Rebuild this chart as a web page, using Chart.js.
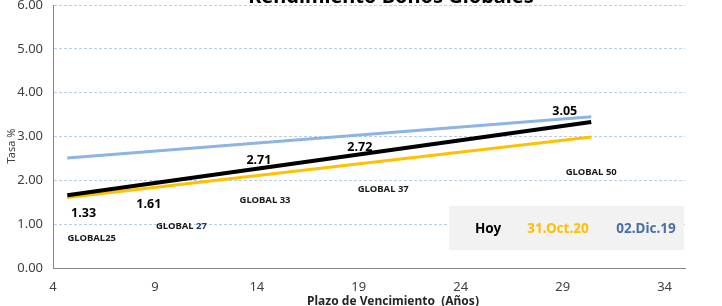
<!DOCTYPE html>
<html>
<head>
<meta charset="utf-8">
<script src="https://cdn.jsdelivr.net/npm/chart.js@4/dist/chart.umd.min.js"></script>
<style>
  html, body { margin: 0; padding: 0; background: #fff; }
  #wrap { width: 722px; height: 306px; }
</style>
</head>
<body>
<div id="wrap"><canvas id="rendimiento" width="722" height="306"></canvas></div>
<script>
// curvas (tendencia) - plazo inicial y final
const plazo = [4.7, 30.4];
const tasaHoy = [1.66, 3.33];
const tasaOct20 = [1.61, 2.99];
const tasaDic19 = [2.51, 3.45];

const xTicks = [4, 9, 14, 19, 24, 29, 34];
const yTicks = [0, 1, 2, 3, 4, 5, 6];

// etiquetas de bonos
const bonos = ["GLOBAL25", "GLOBAL 27", "GLOBAL 33", "GLOBAL 37", "GLOBAL 50"];
const bonosX = [5.9, 10.3, 14.4, 20.2, 30.4];
const bonosY = [0.68, 0.94, 1.55, 1.80, 2.19];

// tasas de hoy
const tasas = ["1.33", "1.61", "2.71", "2.72", "3.05"];
const tasasX = [5.5, 8.7, 14.1, 19.05, 29.1];
const tasasY = [1.25, 1.44, 2.46, 2.76, 3.58];

const toPoints = (ys) => plazo.map((x, i) => ({ x: x, y: ys[i] }));

const textos = {
  id: "textos",
  afterDraw(chart) {
    const ctx = chart.ctx;
    const x = chart.scales.x;
    const y = chart.scales.y;
    ctx.save();

    // titulo
    ctx.fillStyle = "#000";
    ctx.font = "bold 20px 'Noto Sans'";
    ctx.textAlign = "center";
    ctx.textBaseline = "alphabetic";
    ctx.fillText("Rendimiento Bonos Globales", 391, 3);

    // tasas
    ctx.font = "bold 12.5px 'Noto Sans'";
    ctx.textBaseline = "middle";
    tasas.forEach((t, i) => {
      ctx.fillText(t, x.getPixelForValue(tasasX[i]), y.getPixelForValue(tasasY[i]));
    });

    // bonos
    ctx.font = "bold 9.5px 'Noto Sans'";
    ctx.textAlign = "left";
    bonos.forEach((b, i) => {
      const w = ctx.measureText(b).width;
      const px = x.getPixelForValue(bonosX[i]) - w / 2;
      const py = y.getPixelForValue(bonosY[i]);
      const pre = "GLOBAL";
      const rest = b.slice(pre.length);
      ctx.fillStyle = "#1a1a1a";
      ctx.fillText(pre, px, py);
      const wp = ctx.measureText(pre).width;
      ctx.fillStyle = b === "GLOBAL 27" ? "#1F3864" : "#1a1a1a";
      ctx.fillText(rest, px + wp, py);
    });

    // leyenda
    ctx.fillStyle = "#F2F2F2";
    ctx.fillRect(449, 206, 235, 44);
    ctx.font = "bold 13.5px 'Noto Sans'";
    ctx.textAlign = "center";
    ctx.fillStyle = "#000";
    ctx.fillText("Hoy", 488, 229);
    ctx.fillStyle = "#FFC000";
    ctx.fillText("31.Oct.20", 558, 229);
    ctx.fillStyle = "#4A6FA5";
    ctx.fillText("02.Dic.19", 646, 229);

    // titulos de ejes
    ctx.fillStyle = "#262626";
    ctx.font = "bold 12px 'Noto Sans'";
    ctx.fillText("Plazo de Vencimiento  (Años)", 393, 302);
    ctx.translate(12, 146);
    ctx.rotate(-Math.PI / 2);
    ctx.font = "11px 'Noto Sans'";
    ctx.fillStyle = "#404040";
    ctx.fillText("Tasa %", 0, 0);
    ctx.restore();
  },
};

function fixSize(size, horizontal) {
  return function (scale) {
    if (horizontal) scale.height = size; else scale.width = size;
    scale.paddingTop = 0;
    scale.paddingBottom = 0;
    scale.paddingLeft = 0;
    scale.paddingRight = 0;
  };
}

Chart.defaults.font.family = "'Noto Sans'";

new Chart(document.getElementById("rendimiento"), {
  type: "scatter",
  data: {
    datasets: [
      { label: "Hoy", data: toPoints(tasaHoy), borderColor: "#000000", borderWidth: 4 },
      { label: "31.Oct.20", data: toPoints(tasaOct20), borderColor: "#FFC000", borderWidth: 3 },
      { label: "02.Dic.19", data: toPoints(tasaDic19), borderColor: "#8DB4E2", borderWidth: 3 },
    ].map((d) => Object.assign(d, { showLine: true, pointRadius: 0, fill: false })),
  },
  options: {
    responsive: false,
    animation: false,
    layout: { padding: { top: 5, right: 37, left: 0, bottom: 0 } },
    plugins: { legend: { display: false }, tooltip: { enabled: false } },
    scales: {
      x: {
        type: "linear",
        min: 4,
        max: 35,
        afterFit: fixSize(38, true),
        afterBuildTicks: (s) => { s.ticks = xTicks.map((v) => ({ value: v })); },
        grid: { display: false, drawTicks: false },
        border: { color: "#868686", width: 1 },
        ticks: { padding: 11, color: "#404040", font: { size: 13 } },
      },
      y: {
        min: 0,
        max: 6,
        afterFit: fixSize(53, false),
        afterBuildTicks: (s) => { s.ticks = yTicks.map((v) => ({ value: v })); },
        grid: { color: "#B9CDE5", drawTicks: false },
        border: { color: "#868686", width: 1, dash: [3, 2] },
        ticks: { padding: 10, color: "#404040", font: { size: 13 }, callback: (v) => v.toFixed(2) },
      },
    },
  },
  plugins: [textos],
});
</script>
</body>
</html>
